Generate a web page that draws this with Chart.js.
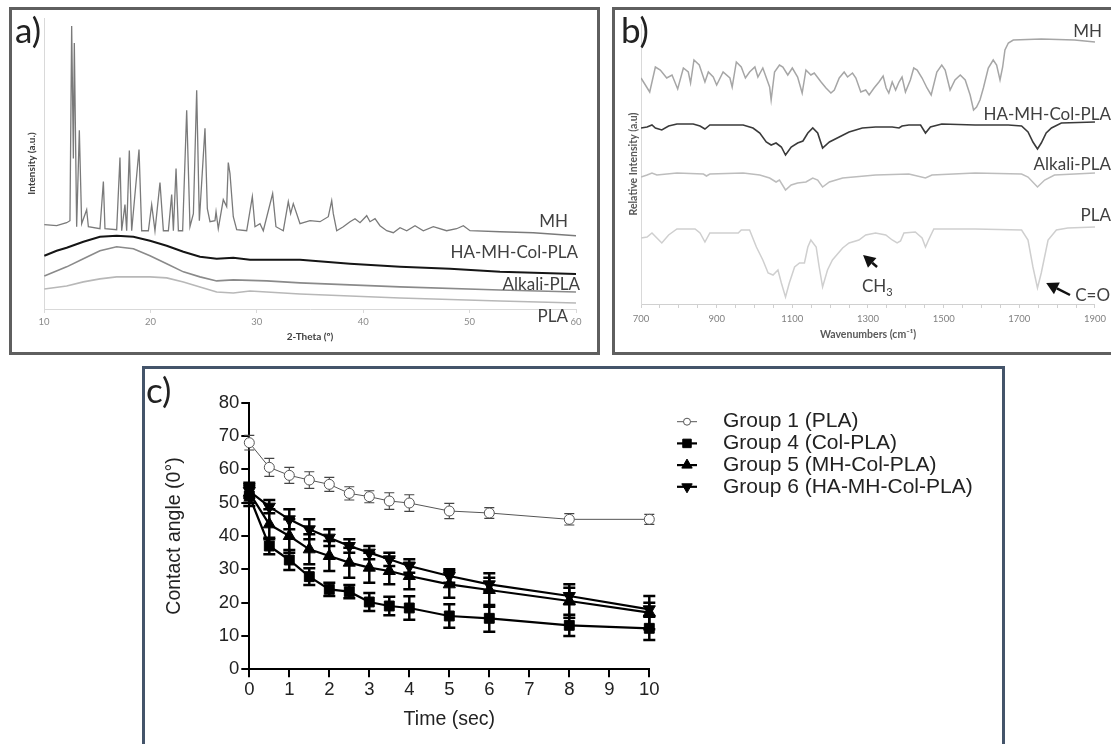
<!DOCTYPE html>
<html><head><meta charset="utf-8">
<script src="https://cdn.jsdelivr.net/npm/chart.js@4.4.1/dist/chart.umd.min.js"></script>
<style>
html,body{margin:0;padding:0;background:#fff;overflow:hidden;}
#wrap{position:relative;width:1111px;height:744px;overflow:hidden;background:#fff;}
.box{position:absolute;box-sizing:border-box;}
.t{position:absolute;white-space:nowrap;line-height:1;font-family:Lato,'Open Sans',sans-serif;color:#404040;}
canvas{position:absolute;display:block;}
</style></head><body>
<div id="wrap">
 <div class="box" style="left:9px;top:7px;width:591px;height:348px;border:3px solid #5f5f5f;"></div>
 <div class="box" style="left:612px;top:7px;width:512px;height:348px;border:3px solid #5f5f5f;"></div>
 <div class="box" style="left:142px;top:366px;width:863px;height:390px;border:3px solid #44546a;"></div>
 <canvas id="ca" width="580" height="338" style="left:14px;top:12px;width:580px;height:338px"></canvas>
 <canvas id="cb" width="495" height="338" style="left:616px;top:12px;width:495px;height:338px"></canvas>
 <canvas id="cc" width="854" height="370" style="left:146px;top:371px;width:854px;height:370px"></canvas>

 <div class="t" style="left:15px;top:12px;font-size:35px;color:#222">a)</div>
 <div class="t" style="left:621px;top:12px;font-size:35px;color:#222">b)</div>
 <div class="t" style="left:146px;top:372px;font-size:35px;color:#222">c)</div>

 <div class="t" style="right:543px;top:212px;font-size:17px">MH</div>
 <div class="t" style="right:533px;top:243px;font-size:17px">HA-MH-Col-PLA</div>
 <div class="t" style="right:531px;top:275px;font-size:17px">Alkali-PLA</div>
 <div class="t" style="right:543px;top:307px;font-size:17px">PLA</div>

 <div class="t" style="right:9px;top:22px;font-size:17px">MH</div>
 <div class="t" style="right:0px;top:105px;font-size:17px">HA-MH-Col-PLA</div>
 <div class="t" style="right:0px;top:155px;font-size:17px">Alkali-PLA</div>
 <div class="t" style="right:0px;top:206px;font-size:17px">PLA</div>
 <div class="t" style="left:862px;top:277px;font-size:17px">CH<span style="font-size:11px;position:relative;top:4px">3</span></div>
 <div class="t" style="right:1px;top:286px;font-size:17px">C=O</div>
</div>
<script>
// ---------- Panel a: XRD (2-Theta, intensity a.u.) ----------
const xrdMH_t = [10.03,11.19,12.13,12.44,12.60,12.76,12.85,13.07,13.32,13.54,14.01,14.17,15.26,15.58,15.73,16.83,17.14,17.30,17.61,17.77,18.02,18.24,18.93,19.18,19.81,20.12,20.43,20.90,21.22,21.69,22.00,22.16,22.41,22.63,23.03,23.41,23.72,24.04,24.35,24.60,25.13,25.35,25.60,26.07,26.17,26.38,26.85,27.17,27.32,27.48,27.79,28.11,29.05,29.58,29.83,30.30,30.61,31.49,31.80,32.49,32.96,33.18,33.43,33.75,34.06,35.0,35.94,36.72,37.04,37.19,37.51,38.13,38.76,39.23,39.70,40.33,40.64,41.11,41.58,42.21,42.83,43.46,44.09,44.87,45.65,46.59,47.84,48.78,49.41,50.04,52.86,55.99,60.0];
const xrdMH_i = [84,83,86,88,282,150,265,82,178,85,99,82,80,127,80,79,151,78,104,78,158,78,159,78,78,104,78,126,78,78,114,78,140,78,78,198,82,95,218,88,180,100,87,88,97,80,109,102,146,135,92,79,78,112,82,85,78,115,82,78,107,95,105,95,85,88,87,92,108,95,78,82,87,90,86,93,87,90,83,78,76,81,78,83,78,82,78,80,83,78,77,76,73];
const xrdHA_t = [10.03,11.19,12.13,13.70,15.26,16.83,18.40,19.96,21.53,23.10,24.66,26.23,27.79,29.36,30.93,34.06,38.76,43.46,48.16,52.86,60.0];
const xrdHA_i = [53,58,61,67,72,73,72,68,63,57,52,50,51,49,49,49,45,42,40,37,35];
const xrdAlk_t = [10.03,12.13,13.70,15.26,16.83,18.40,19.96,21.53,23.10,24.66,26.23,27.79,30.93,34.06,43.46,52.86,60.0];
const xrdAlk_i = [33,42,50,58,62,60,53,45,37,32,28,29,28,26,22,19,17];
const xrdPLA_t = [10.03,12.13,13.70,15.26,16.83,18.40,19.96,21.53,23.10,24.66,26.23,27.79,29.36,30.93,34.06,43.46,52.86,60.0];
const xrdPLA_i = [20,23,27,30,32,32,32,31,27,22,17,16,18,17,15,11,8,6];
const xrdTicksMin = 10, xrdTicksMax = 60, xrdStep = 10;

// ---------- Panel b: FTIR (wavenumber, relative intensity) ----------
const irMH_w = [700,723,738,751,768,782,797,812,825,831,840,854,869,878,891,900,917,935,941,952,965,976,987,1001,1009,1022,1040,1044,1053,1066,1075,1088,1100,1114,1126,1136,1149,1158,1176,1189,1202,1211,1224,1237,1246,1259,1268,1281,1294,1303,1316,1329,1340,1348,1355,1364,1373,1382,1390,1399,1412,1421,1430,1443,1456,1467,1482,1495,1504,1517,1530,1544,1557,1570,1579,1587,1596,1605,1618,1631,1640,1649,1656,1662,1671,1684,1758,1846,1900];
const irMH_i = [226,212,237,234,226,229,215,236,232,221,244,239,222,232,227,219,232,226,217,242,237,226,232,237,227,236,217,204,232,239,237,229,236,227,211,234,229,231,222,216,211,214,226,232,227,231,226,212,214,209,216,222,228,216,211,222,214,222,227,212,224,236,234,226,216,209,232,239,234,214,224,229,224,209,194,197,204,216,236,244,239,224,237,254,261,264,265,264,262];
const irHA_w = [700,716,729,738,755,773,795,838,856,869,882,926,970,996,1014,1031,1044,1057,1071,1082,1097,1114,1128,1141,1154,1167,1180,1198,1224,1250,1285,1320,1364,1382,1390,1408,1439,1452,1465,1495,1583,1671,1706,1723,1736,1748,1758,1771,1785,1811,1900];
const irHA_i = [176,177,179,176,174,178,180,180,178,175,179,179,179,176,171,162,159,161,157,149,157,161,163,171,176,171,156,162,167,172,176,177,177,176,178,179,179,171,177,180,179,179,178,172,162,155,161,171,176,181,182];
const irAlk_w = [700,716,729,742,795,865,873,882,970,1014,1040,1057,1066,1082,1097,1114,1136,1154,1167,1180,1198,1233,1320,1408,1452,1469,1583,1706,1723,1748,1767,1793,1900];
const irAlk_i = [127,129,131,129,131,130,128,130,131,129,126,122,124,114,119,121,122,126,124,117,122,126,129,130,126,129,131,130,127,117,124,129,131];
const irPLA_w = [700,716,729,742,755,773,795,843,856,869,882,935,957,965,987,1005,1022,1036,1049,1062,1071,1082,1092,1106,1119,1132,1141,1149,1163,1171,1180,1193,1206,1233,1250,1276,1294,1320,1347,1364,1377,1386,1395,1425,1443,1452,1460,1474,1583,1706,1723,1736,1748,1758,1776,1798,1828,1900];
const irPLA_i = [66,67,71,66,61,69,75,75,71,62,71,71,71,74,74,57,44,31,29,34,21,7,21,37,41,41,57,64,57,37,17,34,44,56,61,64,69,71,69,64,61,63,71,72,66,57,64,75,75,74,64,37,16,31,64,74,76,77];
// annotation arrows (data space): tail -> tip
const arrowTail = [[1324,37],[1834,9]];
const arrowTip  = [[1287,49],[1771,21]];

// ---------- Panel c: contact angle ----------
const times = [0,0.5,1,1.5,2,2.5,3,3.5,4,5,6,8,10];
const g1 = [68,60.6,58.2,56.8,55.5,52.8,51.8,50.5,49.9,47.5,46.9,45,45];
const g1err = [2.2,2.7,2.4,2.5,2.1,2,1.8,2.5,2.5,2.3,1.6,1.7,1.5];
const g4 = [52,37,32.8,27.8,24,23.3,20.2,19,18.4,16,15.3,13.2,12.3];
const g4err = [3,2.5,3,2.5,2,2,2.7,2.8,3.5,3.5,4,3.2,3.5];
const g5 = [53,43.5,40,36,34,32,30.5,29.5,28,25.5,23.8,20.5,17];
const g5err = [3,4.5,5,4.5,4.5,4.5,4.5,4,4,4,5,5,5];
const g6 = [53.5,48.8,45,42,39.5,37,35,33,31,28,25.5,22,18];
const g6err = [2,2,3,3,2.5,2,2,2,2,2,2,2.5,2];
const groupNames = ['Group 1 (PLA)','Group 4 (Col-PLA)','Group 5 (MH-Col-PLA)','Group 6 (HA-MH-Col-PLA)'];

Chart.defaults.font.family = 'Lato';
const mk = (xs, ys) => xs.map((x, i) => ({x: x, y: ys[i]}));
const lineDs = (label, xs, ys, color, w) => ({label, data: mk(xs, ys), borderColor: color, borderWidth: w, pointRadius: 0, tension: 0, fill: false});
const base = {responsive:false, animation:false, events:[], plugins:{legend:{display:false}, tooltip:{enabled:false}}};

// Panel a
new Chart(document.getElementById('ca'), {
  type:'line',
  data:{datasets:[
    lineDs('MH', xrdMH_t, xrdMH_i, '#7a7a7a', 1.3),
    lineDs('HA-MH-Col-PLA', xrdHA_t, xrdHA_i, '#151515', 2),
    lineDs('Alkali-PLA', xrdAlk_t, xrdAlk_i, '#8a8a8a', 1.6),
    lineDs('PLA', xrdPLA_t, xrdPLA_i, '#b8b8b8', 1.6)
  ]},
  options:Object.assign({}, base, {
    layout:{padding:{left:0,right:18,top:6,bottom:0}},
    scales:{
      x:{type:'linear', min:xrdTicksMin, max:xrdTicksMax, afterFit(s){s.height=41;},
        ticks:{stepSize:xrdStep, font:{size:9.5}, color:'#8a8a8a', padding:3, maxRotation:0},
        grid:{display:true, drawOnChartArea:false, drawTicks:true, tickLength:4, color:'#d9d9d9'},
        border:{display:true, color:'#d9d9d9'},
        title:{display:true, text:'2-Theta (º)', font:{size:10, weight:'bold'}, color:'#404040', padding:{top:0,bottom:7}}},
      y:{type:'linear', min:0, max:290, afterFit(s){s.width=30;},
        ticks:{display:false}, grid:{display:false}, border:{display:true, color:'#d9d9d9'},
        title:{display:true, text:'Intensity (a.u.)', font:{size:10, weight:'bold'}, color:'#404040', padding:{top:12,bottom:0}}}
    }
  })
});

// Panel b
const arrowPlugin = {id:'arrows', afterDatasetsDraw(chart){
  const {ctx, scales:{x, y}} = chart;
  ctx.save(); ctx.fillStyle = '#111'; ctx.strokeStyle = '#111'; ctx.lineWidth = 2.5;
  arrowTail.forEach((t, i) => {
    const sx = x.getPixelForValue(t[0]), sy = y.getPixelForValue(t[1]);
    const ex = x.getPixelForValue(arrowTip[i][0]), ey = y.getPixelForValue(arrowTip[i][1]);
    const a = Math.atan2(ey - sy, ex - sx), hl = 12, hw = 6.5;
    const bx = ex - hl*Math.cos(a), by = ey - hl*Math.sin(a);
    ctx.beginPath(); ctx.moveTo(sx, sy); ctx.lineTo(bx, by); ctx.stroke();
    ctx.beginPath(); ctx.moveTo(ex, ey);
    ctx.lineTo(bx + hw*Math.sin(a), by - hw*Math.cos(a));
    ctx.lineTo(bx - hw*Math.sin(a), by + hw*Math.cos(a));
    ctx.closePath(); ctx.fill();
  });
  ctx.restore();
}};
new Chart(document.getElementById('cb'), {
  type:'line',
  data:{datasets:[
    lineDs('MH', irMH_w, irMH_i, '#a6a6a6', 1.5),
    lineDs('HA-MH-Col-PLA', irHA_w, irHA_i, '#3a3a3a', 1.6),
    lineDs('Alkali-PLA', irAlk_w, irAlk_i, '#bdbdbd', 1.5),
    lineDs('PLA', irPLA_w, irPLA_i, '#cfcfcf', 1.5)
  ]},
  options:Object.assign({}, base, {
    layout:{padding:{left:0,right:14,top:12,bottom:0}},
    scales:{
      x:{type:'linear', min:700, max:1900, afterFit(s){s.height=46;},
        ticks:{stepSize:50, autoSkip:false, font:{size:9.5}, color:'#808080', padding:5, maxRotation:0,
          callback:(v) => ((v - 700) % 200 === 0 ? String(v) : '')},
        grid:{display:true, drawOnChartArea:false, drawTicks:true, tickLength:4, color:'#d0d0d0'},
        border:{display:true, color:'#d0d0d0'},
        title:{display:true, text:'Wavenumbers (cm⁻¹)', font:{size:10.5, weight:'bold'}, color:'#595959', padding:{top:0,bottom:9}}},
      y:{type:'linear', min:0, max:280, afterFit(s){s.width=25;},
        ticks:{display:false}, grid:{display:false}, border:{display:true, color:'#d9d9d9'},
        title:{display:true, text:'Relative Intensity (a.u)', font:{size:10.5, weight:'bold'}, color:'#595959', padding:{top:11,bottom:0}}}
    }
  }),
  plugins:[arrowPlugin]
});

// Panel c
const errPlugin = {id:'errbars', beforeDatasetsDraw(chart){
  const {ctx, scales:{x, y}} = chart;
  ctx.save();
  chart.data.datasets.forEach(ds => {
    ctx.strokeStyle = ds.errColor; ctx.lineWidth = ds.errW;
    ds.data.forEach((p, j) => {
      const px = x.getPixelForValue(p.x), y1 = y.getPixelForValue(p.y + ds.err[j]), y2 = y.getPixelForValue(p.y - ds.err[j]);
      ctx.beginPath();
      ctx.moveTo(px, y1); ctx.lineTo(px, y2);
      ctx.moveTo(px - ds.cap, y1); ctx.lineTo(px + ds.cap, y1);
      ctx.moveTo(px - ds.cap, y2); ctx.lineTo(px + ds.cap, y2);
      ctx.stroke();
    });
  });
  ctx.restore();
}};
const legendPlugin = {id:'customLegend', afterDraw(chart){
  const ctx = chart.ctx;
  const lx = 531, ll = 20, tx = 577, y0 = 50.7, dy = 21.7;
  ctx.save();
  chart.data.datasets.forEach((ds, i) => {
    const cy = y0 + i*dy;
    ctx.strokeStyle = ds.borderColor; ctx.lineWidth = ds.borderWidth;
    ctx.beginPath(); ctx.moveTo(lx, cy); ctx.lineTo(lx + ll, cy); ctx.stroke();
    ctx.fillStyle = ds.pointBackgroundColor; ctx.strokeStyle = ds.pointBorderColor; ctx.lineWidth = ds.pointBorderWidth;
    Chart.helpers.drawPoint(ctx, {pointStyle: ds.pointStyle, rotation: ds.pointRotation || 0, radius: ds.legendRadius, borderWidth: ds.pointBorderWidth}, lx + ll/2, cy);
    ctx.fillStyle = '#222'; ctx.font = '21px "Liberation Sans", Arial, sans-serif'; ctx.textBaseline = 'middle'; ctx.textAlign = 'left';
    ctx.fillText(ds.label, tx, cy);
  });
  ctx.restore();
}};
const grp = (i, ys, err, opt) => Object.assign({label: groupNames[i], data: mk(times, ys), err: err, tension:0, clip:false, fill:false}, opt);
new Chart(document.getElementById('cc'), {
  type:'line',
  data:{datasets:[
    grp(0, g1, g1err, {borderColor:'#555', borderWidth:1, pointStyle:'circle', pointRadius:5, pointBackgroundColor:'#fff', pointBorderColor:'#555', pointBorderWidth:1, errColor:'#444', errW:1.1, cap:5, legendRadius:3.5}),
    grp(1, g4, g4err, {borderColor:'#000', borderWidth:2.2, pointStyle:'rect', pointRadius:7, pointBackgroundColor:'#000', pointBorderColor:'#000', pointBorderWidth:1, errColor:'#000', errW:2.5, cap:6, legendRadius:6}),
    grp(2, g5, g5err, {borderColor:'#000', borderWidth:2.2, pointStyle:'triangle', pointRadius:7, pointBackgroundColor:'#000', pointBorderColor:'#000', pointBorderWidth:1, errColor:'#000', errW:2.5, cap:6, legendRadius:6}),
    grp(3, g6, g6err, {borderColor:'#000', borderWidth:2.2, pointStyle:'triangle', pointRotation:180, pointRadius:7, pointBackgroundColor:'#000', pointBorderColor:'#000', pointBorderWidth:1, errColor:'#000', errW:2.5, cap:6, legendRadius:6})
  ]},
  options:Object.assign({}, base, {
    layout:{padding:{left:0,right:350.7,top:31.7,bottom:0}},
    scales:{
      x:{type:'linear', min:0, max:10, afterFit(s){s.height=71.7;},
        ticks:{stepSize:1, font:{family:'Liberation Sans', size:18.5}, color:'#222', padding:2, maxRotation:0},
        grid:{display:true, drawOnChartArea:false, drawTicks:true, tickLength:8, color:'#000', lineWidth:2},
        border:{display:true, color:'#000', width:2},
        title:{display:true, text:'Time (sec)', font:{family:'Liberation Sans', size:19.5}, color:'#222', padding:{top:0,bottom:9.5}}},
      y:{type:'linear', min:0, max:80, afterFit(s){s.width=103.3;},
        ticks:{stepSize:10, font:{family:'Liberation Sans', size:18.5}, color:'#222', padding:2},
        grid:{display:true, drawOnChartArea:false, drawTicks:true, tickLength:8, color:'#000', lineWidth:2},
        border:{display:true, color:'#000', width:2},
        title:{display:true, text:'Contact angle (0°)', font:{family:'Liberation Sans', size:19.5}, color:'#222', padding:{top:17.3,bottom:0}}}
    }
  }),
  plugins:[errPlugin, legendPlugin]
});
</script>
</body></html>
